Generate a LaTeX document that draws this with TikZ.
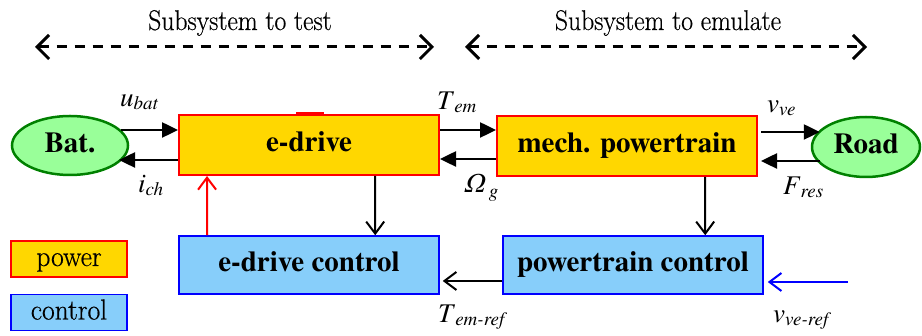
\documentclass[tikz,border=0pt]{standalone}
\usepackage{fontspec}
\setmainfont{TeX Gyre Termes}
\newfontfamily\lmfont{Latin Modern Roman}[FakeBold=0.5]
\usetikzlibrary{arrows.meta,shapes.geometric,calc}

\definecolor{powerfill}{HTML}{FFD700}
\definecolor{powerline}{HTML}{FF0000}
\definecolor{ctrlfill}{HTML}{87CEFA}
\definecolor{ctrlline}{HTML}{0000FF}
\definecolor{srcfill}{HTML}{99FF99}
\definecolor{srcline}{HTML}{008000}

% signal name with an italic subscript
\newcommand{\sig}[2]{\textit{#1}\raisebox{-3pt}{\fontsize{19}{19}\selectfont\textit{#2}}}
% upright text set slightly narrow
\newcommand{\narrowtext}[2]{\scalebox{#1}[1]{#2}}

\tikzset{
  boxtext/.style={font=\fontsize{29}{29}\selectfont\bfseries, text height=20pt, text depth=6pt, inner sep=0pt},
  powerbox/.style={boxtext, draw=powerline, fill=powerfill, line width=2pt, minimum width=260pt, minimum height=60pt},
  ctrlbox/.style={boxtext, draw=ctrlline, fill=ctrlfill, line width=1.5pt, minimum width=260pt, minimum height=58pt},
  source/.style={boxtext, ellipse, draw=srcline, fill=srcfill, line width=2.5pt},
  legendbox/.style={font=\lmfont\fontsize{29}{29}\selectfont, text height=20pt, text depth=6pt, inner sep=0pt, minimum width=116pt, minimum height=36pt},
  siglabel/.style={font=\fontsize{27}{27}\selectfont, inner sep=0pt, anchor=base west},
  toplabel/.style={font=\lmfont\fontsize{28.5}{28.5}\selectfont, inner sep=0pt, anchor=base},
  powerarrow/.style={line width=2.5pt, -{Triangle[length=16pt,width=15pt]}},
  ctrlarrow/.style={line width=2pt, -{Straight Barb[length=12pt,width=18pt]}},
  scopearrow/.style={line width=3pt, dash pattern=on 10pt off 8pt, {Straight Barb[length=12pt,width=24pt]}-{Straight Barb[length=12pt,width=24pt]}}
}

\begin{document}
\begin{tikzpicture}[x=1pt,y=-1pt]
\useasboundingbox (0,0) rectangle (922,336);

% scope of each subsystem
\node[toplabel] (ttest) at (240,30) {\narrowtext{0.9}{Subsystem to test}};
\node[toplabel] (temul) at (668,30) {\narrowtext{0.9}{Subsystem to emulate}};
\coordinate (testL) at (35,47);
\coordinate (testR) at (434,47);
\coordinate (emulL) at (465,47);
\coordinate (emulR) at (867,47);
\draw[scopearrow] (testL) -- (testR);
\draw[scopearrow] (emulL) -- (emulR);

% power blocks
\node[powerbox] (edrive) at (309,145) {e-drive};
\draw[powerline, line width=3.5pt] ($(edrive.north west)+(118,0)$) -- ($(edrive.north west)+(146,0)$);
\node[powerbox] (mech) at (627,146) {mech. powertrain};

% sources
\node[source, minimum width=116pt, minimum height=59pt] (bat) at (70,145.5) {Bat.};
\node[source, minimum width=108pt, minimum height=60pt] (road) at (866,147) {Road};

% control blocks
\node[ctrlbox] (edc) at (309,265) {e-drive control};
\node[ctrlbox] (ptc) at (633,265) {powertrain control};

% legend
\node[legendbox, draw=powerline, fill=powerfill, line width=1.5pt] (lgpower) at (69,259) {\narrowtext{0.95}{power}};
\node[legendbox, draw=ctrlline, fill=ctrlfill, line width=1.5pt] (lgctrl) at (69,312.5) {\narrowtext{0.95}{control}};

% power flows
\draw[powerarrow] ($(edrive.west)+(-57,-15)$) -- ($(edrive.west)+(0,-15)$);
\draw[powerarrow] ($(edrive.west)+(0,15)$) -- ($(edrive.west)+(-59,15)$);
\draw[powerarrow] ($(edrive.east)+(0,-15)$) -- ($(mech.west)+(0,-16)$);
\draw[powerarrow] ($(mech.west)+(0,13)$) -- ($(edrive.east)+(0,14)$);
\draw[powerarrow] ($(mech.east)+(3,-14)$) -- ($(road.west)+(9,-15)$);
\draw[powerarrow] ($(road.west)+(9,14)$) -- ($(mech.east)+(3,15)$);

% control flows
\draw[ctrlarrow, draw=powerline] ($(edc.north west)+(29,0)$) -- ($(edrive.south west)+(29,0)$);
\draw[ctrlarrow] ($(edrive.south west)+(197,0)$) -- ($(edc.north west)+(197,0)$);
\draw[ctrlarrow] ($(mech.south west)+(209,0)$) -- ($(ptc.north west)+(203,0)$);
\draw[ctrlarrow] ($(ptc.west)+(0,16)$) -- ($(edc.east)+(3,16)$);
\coordinate (vref) at (848,282);
\draw[ctrlarrow, draw=ctrlline] (vref) -- ($(ptc.east)+(4,17)$);

% signal names
\node[siglabel] (lub) at (120,107) {\sig{u}{bat}};
\node[siglabel] (lic) at (138,193) {\sig{i}{ch}};
\node[siglabel] (lte) at (437,110) {\sig{T}{em}};
\node[siglabel] (lom) at (465,193) {\textit{Ω}\kern3pt\raisebox{-5pt}{\fontsize{19}{19}\selectfont\textit{g}}};
\node[siglabel] (lvv) at (767,113) {\sig{v}{ve}};
\node[siglabel] (lfr) at (783,195) {\sig{F}{res}};
\node[siglabel] (lter) at (438,323) {\sig{T}{em-ref}};
\node[siglabel] (lvr) at (773,323) {\sig{v}{ve-ref}};
\end{tikzpicture}
\end{document}
